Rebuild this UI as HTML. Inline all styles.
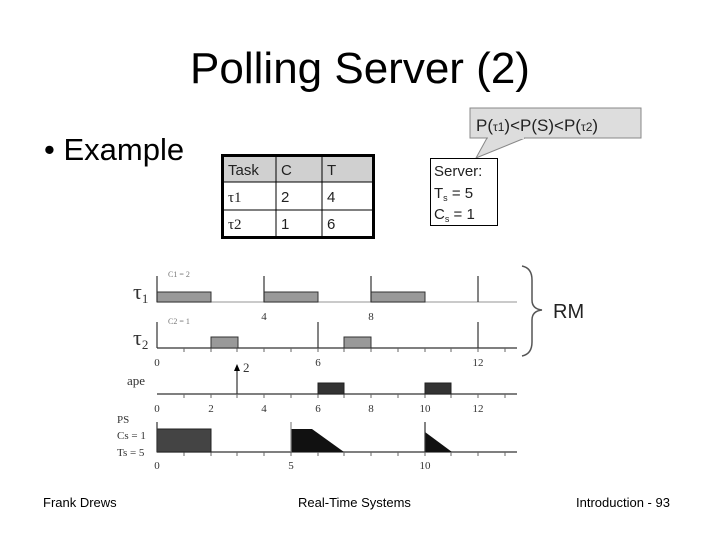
<!DOCTYPE html>
<html><head><meta charset="utf-8"><style>
body{margin:0;width:720px;height:540px;background:#fff;position:relative;overflow:hidden;font-family:"Liberation Sans",sans-serif}
.a{position:absolute;white-space:nowrap}
</style></head><body>
<div class="a" style="left:0;width:720px;text-align:center;top:44px;font-size:44px">Polling Server (2)</div>
<div class="a" style="left:44px;top:132px;font-size:31px">• Example</div>
<div class="a" style="left:43px;top:495px;font-size:13px">Frank Drews</div>
<div class="a" style="left:298px;top:495px;font-size:13px">Real-Time Systems</div>
<div class="a" style="left:576px;top:495px;font-size:13px">Introduction - 93</div>
<svg class="a" style="left:0;top:0" width="720" height="540" font-family="Liberation Sans, DejaVu Sans, sans-serif">
<!-- table -->
<rect x="222" y="155" width="151" height="27" fill="#d0d0d0"/>
<rect x="222.5" y="155.5" width="151" height="82" fill="none" stroke="#000" stroke-width="3"/>
<line x1="222" y1="182" x2="373" y2="182" stroke="#000"/>
<line x1="222" y1="210" x2="373" y2="210" stroke="#000"/>
<line x1="276" y1="155" x2="276" y2="237" stroke="#000"/>
<line x1="322" y1="155" x2="322" y2="237" stroke="#000"/>
<g font-size="15" fill="#222">
<text x="228" y="175">Task</text><text x="281" y="175">C</text><text x="327" y="175">T</text>
<text x="228" y="202" font-family="Liberation Serif">τ1</text><text x="281" y="202">2</text><text x="327" y="202">4</text>
<text x="228" y="229" font-family="Liberation Serif">τ2</text><text x="281" y="229">1</text><text x="327" y="229">6</text>
</g>
<!-- callout -->
<rect x="470" y="108" width="171" height="30" fill="#ddd" stroke="#888"/>
<polygon points="487,138 476,158 525,138" fill="#ddd" stroke="#888"/>
<line x1="488" y1="138" x2="524" y2="138" stroke="#ddd" stroke-width="2"/>
<text x="476" y="131" font-size="17" fill="#222">P(<tspan font-size="12">τ1</tspan>)&lt;P(S)&lt;P(<tspan font-size="12">τ2</tspan>)</text>
<rect x="430.5" y="158.5" width="67" height="67" fill="#fff" stroke="#000"/>
<g font-size="15" fill="#222"><text x="434" y="176">Server:</text>
<text x="434" y="198">T<tspan font-size="9" dy="3">s</tspan><tspan dy="-3"> = 5</tspan></text>
<text x="434" y="219">C<tspan font-size="9" dy="3">s</tspan><tspan dy="-3"> = 1</tspan></text></g>
<!-- brace -->
<path d="M522,266 Q532,268 532,280 L532,300 Q532,309 542,310 Q532,311 532,320 L532,342 Q532,354 522,356" fill="none" stroke="#555" stroke-width="1.5"/>
<text x="553" y="318" font-size="20" fill="#222">RM</text>
<!-- axes -->
<g stroke="#333" stroke-width="1.2">
<line x1="157" y1="302" x2="517" y2="302" stroke="#aaa"/>
<line x1="157" y1="348" x2="517" y2="348"/>
<line x1="157" y1="394" x2="517" y2="394"/>
<line x1="157" y1="452" x2="517" y2="452"/>
</g>
<g stroke="#666" stroke-width="1">
<path d="M184,394v4M211,394v4M237,394v4M264,394v4M291,394v4M318,394v4M344,394v4M371,394v4M398,394v4M425,394v4M451,394v4M478,394v4M505,394v4"/>
<path d="M184,452v4M211,452v4M237,452v4M264,452v4M291,452v4M318,452v4M344,452v4M371,452v4M398,452v4M425,452v4M451,452v4M478,452v4M505,452v4"/>
<path d="M184,348v4M211,348v4M237,348v4M264,348v4M291,348v4M318,348v4M344,348v4M371,348v4M398,348v4M425,348v4M451,348v4M478,348v4M505,348v4"/>
</g>
<g fill="#999" stroke="#333">
<rect x="157" y="292" width="54" height="10"/><rect x="264" y="292" width="54" height="10"/><rect x="371" y="292" width="54" height="10"/>
<rect x="211" y="337" width="27" height="11"/><rect x="344" y="337" width="27" height="11"/>
</g>
<g fill="#333" stroke="#222">
<rect x="318" y="383" width="26" height="11"/><rect x="425" y="383" width="26" height="11"/>
<rect x="157" y="429" width="54" height="23" fill="#444"/>
</g>
<polygon points="291,429 312,429 344,452 291,452" fill="#111"/>
<polygon points="425,432 452,452 425,452" fill="#111"/>
<g stroke="#333" stroke-width="1.2">
<line x1="157" y1="276" x2="157" y2="302"/><line x1="264" y1="276" x2="264" y2="302"/><line x1="371" y1="276" x2="371" y2="302"/><line x1="478" y1="276" x2="478" y2="302"/>
<line x1="157" y1="322" x2="157" y2="348"/><line x1="318" y1="322" x2="318" y2="348"/><line x1="478" y1="322" x2="478" y2="348"/>
<line x1="157" y1="422" x2="157" y2="452"/><line x1="291" y1="422" x2="291" y2="452" stroke="#888"/><line x1="425" y1="422" x2="425" y2="452"/>
<line x1="237" y1="368" x2="237" y2="394"/>
</g>
<polygon points="234,371 240,371 237,364" fill="#000"/>
<g font-family="Liberation Serif" fill="#333">
<text x="243" y="372" font-size="13">2</text>
<text x="133" y="299" font-size="22">τ<tspan font-size="13" dy="4">1</tspan></text>
<text x="133" y="345" font-size="22">τ<tspan font-size="13" dy="4">2</tspan></text>
<text x="127" y="385" font-size="13">ape</text>
<text x="117" y="423" font-size="11">PS</text>
<text x="117" y="439" font-size="11">Cs = 1</text>
<text x="117" y="456" font-size="11">Ts = 5</text>
<text x="168" y="277" font-size="8" fill="#777">C1 = 2</text>
<text x="168" y="324" font-size="8" fill="#777">C2 = 1</text>
<g font-size="11" text-anchor="middle">
<text x="264" y="320">4</text><text x="371" y="320">8</text>
<text x="157" y="366">0</text><text x="318" y="366">6</text><text x="478" y="366">12</text>
<text x="157" y="412">0</text><text x="211" y="412">2</text><text x="264" y="412">4</text><text x="318" y="412">6</text><text x="371" y="412">8</text><text x="425" y="412">10</text><text x="478" y="412">12</text>
<text x="157" y="469">0</text><text x="291" y="469">5</text><text x="425" y="469">10</text>
</g></g>
</svg>
</body></html>
